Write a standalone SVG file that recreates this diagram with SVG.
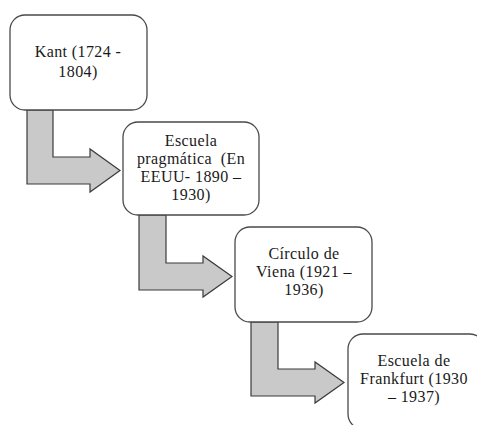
<svg xmlns="http://www.w3.org/2000/svg" width="477" height="425" viewBox="0 0 477 425">
<style>
.box{fill:#ffffff;stroke:#4a4a4a;stroke-width:1.3}
.arr{fill:#c9c9c9;stroke:#3a3a3a;stroke-width:1.2;stroke-linejoin:miter}
.t{font-family:"Liberation Serif","Tinos","Times New Roman","Noto Serif","DejaVu Serif",serif;font-size:16px;letter-spacing:0.4px;fill:#1a1a1a;text-anchor:middle}
</style>
<rect width="477" height="425" fill="#ffffff"/>
<g id="connectors">
<polygon class="arr" points="27,110 53,110 53,157 90,157 90,149 120,170.5 90,192 90,184 27,184"/>
<polygon class="arr" points="139,215 166,215 166,263 203,263 203,256 232,276.5 203,297 203,290 139,290"/>
<polygon class="arr" points="251,322 278,322 278,369 315,369 315,362 344,382.5 315,403 315,396 251,396"/>
</g>
<g id="kant">
<rect class="box" x="10" y="15" width="137" height="95" rx="15"/>
<text class="t" x="78" y="57">Kant (1724 -</text>
<text class="t" x="78" y="77">1804)</text>
</g>
<g id="pragmatica">
<rect class="box" x="123" y="122" width="136" height="93" rx="15"/>
<text class="t" x="191" y="146">Escuela</text>
<text class="t" x="191" y="164" xml:space="preserve">pragmática  (En</text>
<text class="t" x="191" y="182">EEUU- 1890 –</text>
<text class="t" x="191" y="200">1930)</text>
</g>
<g id="viena">
<rect class="box" x="235" y="227" width="137" height="95" rx="15"/>
<text class="t" x="304" y="259">Círculo de</text>
<text class="t" x="304" y="277">Viena (1921 –</text>
<text class="t" x="304" y="295">1936)</text>
</g>
<g id="frankfurt">
<rect class="box" x="348" y="334" width="137" height="95" rx="15"/>
<text class="t" x="414" y="366">Escuela de</text>
<text class="t" x="414" y="384">Frankfurt (1930</text>
<text class="t" x="414" y="402">– 1937)</text>
</g>
</svg>
